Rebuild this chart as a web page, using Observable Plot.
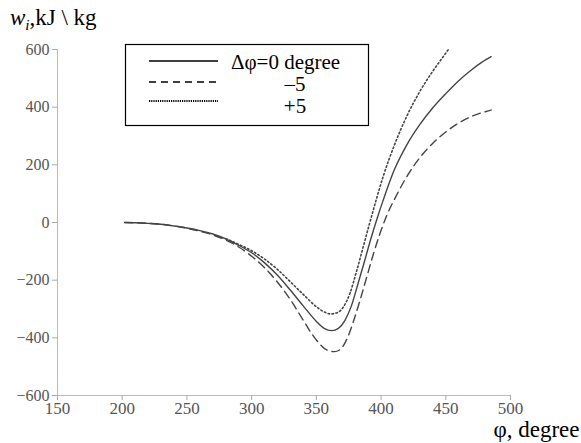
<!DOCTYPE html>
<html>
<head>
<meta charset="utf-8">
<script src="https://cdn.jsdelivr.net/npm/d3@7"></script>
<script src="https://cdn.jsdelivr.net/npm/@observablehq/plot@0.6"></script>
<style>
  html, body { margin: 0; padding: 0; background: white; }
</style>
</head>
<body>
<div id="chart"></div>
<script>
// Δφ = 0 degree (solid)
const phi0 = [202, 210, 220, 230, 240, 250, 260, 270, 280, 290, 300, 310, 320, 330, 340, 350, 356, 362, 367, 372, 377, 382, 387, 392, 397, 402, 410, 420, 430, 440, 450, 460, 470, 478, 485];
const w0   = [0, -1, -3, -6, -12, -19, -28, -40, -57, -79, -105, -140, -183, -235, -290, -343, -367, -375, -367, -340, -290, -215, -138, -58, 15, 82, 180, 270, 340, 398, 447, 492, 530, 556, 575];
// Δφ = −5 (dashed)
const phiM5 = [202, 210, 220, 230, 240, 250, 260, 270, 280, 290, 300, 310, 320, 330, 340, 346, 352, 358, 364, 369, 374, 379, 384, 389, 394, 399, 404, 412, 420, 430, 440, 450, 460, 470, 478, 485];
const wM5   = [0, -1, -3, -6, -12, -20, -30, -43, -61, -85, -117, -157, -207, -268, -340, -383, -418, -442, -448, -438, -400, -338, -266, -188, -110, -40, 20, 95, 160, 225, 275, 314, 345, 368, 381, 390];
// Δφ = +5 (dotted)
const phiP5 = [280, 290, 300, 310, 320, 330, 340, 350, 356, 361, 366, 371, 376, 381, 386, 391, 396, 402, 410, 420, 430, 440, 448, 452];
const wP5   = [-56, -76, -98, -127, -163, -206, -250, -292, -310, -317, -313, -292, -245, -170, -88, -5, 75, 165, 265, 370, 455, 525, 575, 600];

const xTicks = [150, 200, 250, 300, 350, 400, 450, 500];
const yTicks = [-600, -400, -200, 0, 200, 400, 600];

const legendItems = [
  {label: "Δφ=0 degree", dash: null, width: 1.3},
  {label: "–5", dash: "7,5", width: 1.3},
  {label: "+5", dash: "1.2,1", width: 2}
];

const serie = (xs, ys) => xs.map((x, i) => ({x, y: ys[i]}));
const lineColor = "#444";
const serif = "'Liberation Serif', 'Times New Roman', serif";

const chart = Plot.plot({
  width: 581,
  height: 443,
  marginLeft: 57,
  marginRight: 71,
  marginTop: 49,
  marginBottom: 48,
  style: {fontSize: "14px", background: "white"},
  x: {domain: [150, 500], label: null},
  y: {domain: [-600, 600], label: null},
  marks: [
    Plot.ruleX([150], {stroke: "#bbb"}),
    Plot.ruleY([-600], {stroke: "#bbb"}),
    Plot.axisX({ticks: xTicks, tickSize: 5, stroke: "#aaa", fill: "#555", fontSize: 17, label: null, tickPadding: 1}),
    Plot.axisY({ticks: yTicks, tickSize: 5, stroke: "#aaa", fill: "#555", fontSize: 16, label: null, tickPadding: 3}),
    Plot.line(serie(phi0, w0), {x: "x", y: "y", stroke: lineColor, strokeWidth: 1.4, curve: "monotone-x"}),
    Plot.line(serie(phiM5, wM5), {x: "x", y: "y", stroke: lineColor, strokeWidth: 1.4, strokeDasharray: "8,5", curve: "monotone-x"}),
    Plot.line(serie(phiP5, wP5), {x: "x", y: "y", stroke: lineColor, strokeWidth: 1.6, strokeDasharray: "1.5,2.5", curve: "monotone-x"}),
    Plot.text(["φ, degree"], {frameAnchor: "bottom-right", dx: 69, dy: 41, textAnchor: "end", fontSize: 23, fill: "black"})
  ]
});

const svg = d3.select(chart);
// y-axis title
const t = svg.append("text")
  .attr("x", 10).attr("y", 25)
  .attr("text-anchor", "start")
  .attr("font-size", 23)
  .attr("fill", "black");
t.append("tspan").attr("font-style", "italic").text("w");
t.append("tspan").attr("font-style", "italic").attr("font-size", 15).attr("dy", 5).text("i");
t.append("tspan").attr("dy", -5).text(",kJ \\ kg");

// legend box
const lg = svg.append("g").attr("font-size", 21);
lg.append("rect").attr("x", 125.5).attr("y", 44.5).attr("width", 243).attr("height", 81)
  .attr("fill", "white").attr("stroke", "black").attr("stroke-width", 1.2);
const rows = [{ly: 61, ty: 69, tx: 231, anchor: "start"}, {ly: 82, ty: 91, tx: 295, anchor: "middle"}, {ly: 101, ty: 113, tx: 295, anchor: "middle"}];
legendItems.forEach((d, i) => {
  const r = rows[i];
  const ln = lg.append("line").attr("x1", 149).attr("x2", 218).attr("y1", r.ly).attr("y2", r.ly)
    .attr("stroke", "black").attr("stroke-width", d.width);
  if (d.dash) ln.attr("stroke-dasharray", d.dash);
  lg.append("text").attr("x", r.tx).attr("y", r.ty).attr("text-anchor", r.anchor).attr("fill", "black").text(d.label);
});

// force a serif face on every text of the chart
svg.style("font-family", serif);
svg.selectAll("text, tspan, g").style("font-family", serif);

document.getElementById("chart").appendChild(chart);
</script>
</body>
</html>
